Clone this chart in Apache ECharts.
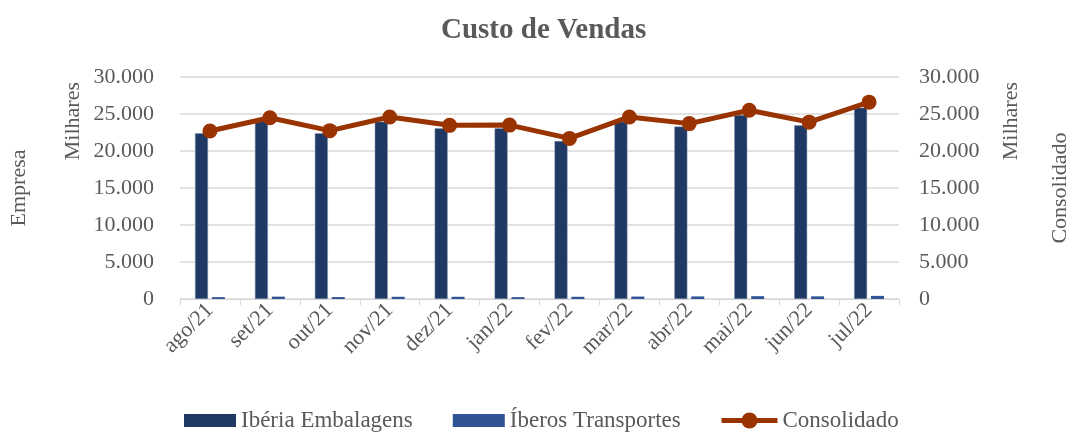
<!DOCTYPE html>
<html>
<head>
<meta charset="utf-8">
<script src="https://cdn.jsdelivr.net/npm/echarts@6/dist/echarts.min.js"></script>
<style>
  html, body { margin: 0; padding: 0; background: #fff; }
  #chart { width: 1068px; height: 432px; }
</style>
</head>
<body>
<div id="chart"></div>
<script>
const months = ['ago/21', 'set/21', 'out/21', 'nov/21', 'dez/21', 'jan/22', 'fev/22', 'mar/22', 'abr/22', 'mai/22', 'jun/22', 'jul/22']
const iberiaEmbalagens = [22400, 24050, 22400, 23960, 23060, 23060, 21350, 23960, 23300, 24860, 23470, 25850]
const iberosTransportes = [250, 320, 260, 300, 300, 250, 300, 330, 350, 380, 360, 420]
const consolidado = [22700, 24500, 22750, 24600, 23470, 23500, 21700, 24600, 23700, 25500, 23900, 26600]

const fontFamily = '"Liberation Serif", "DejaVu Serif", serif'
const textColor = '#595959'

// separador de milhar com ponto
const fmt = (v) => String(v).replace(/\B(?=(\d{3})+(?!\d))/g, '.')

const yAxisBase = {
    type: 'value',
    min: 0,
    max: 30000,
    interval: 5000,
    axisLine: { show: false },
    axisTick: { show: false },
    axisLabel: { color: textColor, fontFamily, fontSize: 22, formatter: fmt, margin: 26 },
    nameLocation: 'middle',
    nameRotate: 90,
    nameTextStyle: { color: textColor, fontFamily, fontSize: 22 }
}

const legendText = { color: textColor, fontFamily, fontSize: 23 }

const chart = echarts.init(document.getElementById('chart'))
chart.setOption({
    animation: false,
    title: {
        text: 'Custo de Vendas',
        left: 436,
        top: 11,
        textStyle: { color: textColor, fontFamily, fontSize: 29, fontWeight: 'bold' }
    },
    legend: [
        {
            left: 179,
            bottom: -5,
            itemGap: 40,
            itemWidth: 52,
            itemHeight: 13,
            textStyle: legendText,
            data: [
                { name: 'Ibéria Embalagens', icon: 'rect', itemStyle: { borderWidth: 0 } },
                { name: 'Íberos Transportes', icon: 'rect' }
            ]
        },
        {
            left: 714,
            bottom: -5,
            itemWidth: 56,
            itemHeight: 20,
            textStyle: legendText,
            data: [{ name: 'Consolidado', lineStyle: { width: 5 } }]
        }
    ],
    grid: { left: 180, right: 169, top: 77, bottom: 133, outerBoundsMode: 'none' },
    xAxis: {
        type: 'category',
        data: months,
        axisLine: { lineStyle: { color: '#d9d9d9', width: 1 } },
        axisTick: { show: true, length: 6, lineStyle: { color: '#d9d9d9' } },
        axisLabel: { color: textColor, fontFamily, fontSize: 22, rotate: 45, margin: 8 }
    },
    yAxis: [
        Object.assign({}, yAxisBase, {
            name: 'Empresa',
            nameGap: 150,
            splitLine: { lineStyle: { color: '#d9d9d9', width: 1.5 } }
        }),
        Object.assign({}, yAxisBase, {
            position: 'right',
            name: 'Consolidado',
            nameGap: 150,
            splitLine: { show: false },
            axisLabel: Object.assign({}, yAxisBase.axisLabel, { margin: 20 })
        })
    ],
    graphic: [
        {
            type: 'text', left: 62, top: 82, rotation: Math.PI / 2,
            style: { text: 'Milhares', fill: textColor, font: '22px ' + fontFamily }
        },
        {
            type: 'text', left: 1000, top: 82, rotation: Math.PI / 2,
            style: { text: 'Milhares', fill: textColor, font: '22px ' + fontFamily }
        }
    ],
    series: [
        {
            name: 'Ibéria Embalagens',
            type: 'bar',
            yAxisIndex: 0,
            barWidth: 13,
            barGap: '30%',
            itemStyle: { color: '#1f3864', borderColor: '#8497b0', borderWidth: 0.5 },
            data: iberiaEmbalagens
        },
        {
            name: 'Íberos Transportes',
            type: 'bar',
            yAxisIndex: 0,
            barWidth: 13,
            itemStyle: { color: '#2f5597' },
            data: iberosTransportes
        },
        {
            name: 'Consolidado',
            type: 'line',
            yAxisIndex: 1,
            symbol: 'circle',
            symbolSize: 15,
            lineStyle: { color: '#993300', width: 5 },
            itemStyle: { color: '#993300' },
            data: consolidado
        }
    ]
})
</script>
</body>
</html>
